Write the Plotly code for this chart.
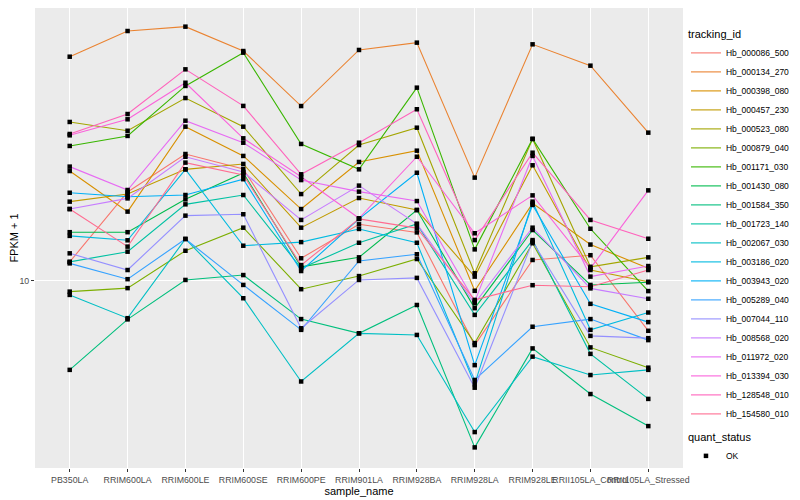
import plotly.graph_objects as go

samples = ["PB350LA", "RRIM600LA", "RRIM600LE", "RRIM600SE", "RRIM600PE", "RRIM901LA",
           "RRIM928BA", "RRIM928LA", "RRIM928LE", "RRII105LA_Control", "RRII105LA_Stressed"]

tracking_ids = ["Hb_000086_500", "Hb_000134_270", "Hb_000398_080", "Hb_000457_230", "Hb_000523_080",
                "Hb_000879_040", "Hb_001171_030", "Hb_001430_080", "Hb_001584_350", "Hb_001723_140",
                "Hb_002067_030", "Hb_003186_020", "Hb_003943_020", "Hb_005289_040", "Hb_007044_110",
                "Hb_008568_020", "Hb_011972_020", "Hb_013394_030", "Hb_128548_010", "Hb_154580_010"]

colors = ["#F8766D", "#EA8331", "#D89000", "#C09B00", "#A3A500", "#7CAE00", "#39B600", "#00BB4E",
          "#00BF7D", "#00C1A3", "#00BFC4", "#00BAE0", "#00B0F6", "#35A2FF", "#9590FF", "#C77CFF",
          "#E76BF3", "#FA62DB", "#FF62BC", "#FF6C91"]

# FPKM + 1 per gene, in the order of samples
Hb_000086_500 = [10.76, 14.07, 16.28, 15.37, 10.91, 12.43, 12.05, 7.82, 10.84, 11.04, 8.26]
Hb_000134_270 = [23.65, 26.10, 26.54, 24.17, 19.57, 24.27, 24.96, 14.87, 24.80, 22.85, 17.67]
Hb_000398_080 = [15.25, 13.05, 18.08, 16.16, 13.18, 15.79, 16.49, 9.63, 13.47, 11.50, 10.50]
Hb_000457_230 = [13.56, 13.96, 15.35, 15.67, 12.27, 13.75, 13.13, 10.17, 15.59, 10.43, 9.97]
Hb_000523_080 = [18.41, 17.80, 20.18, 18.08, 13.96, 16.85, 18.01, 10.30, 17.25, 10.56, 10.95]
Hb_000879_040 = [9.60, 9.73, 11.23, 12.27, 9.69, 10.19, 10.88, 7.88, 11.56, 7.75, 7.17]
Hb_001171_030 = [16.79, 17.45, 21.14, 24.02, 16.92, 15.35, 21.00, 11.29, 17.25, 12.22, 9.62]
Hb_001430_080 = [12.06, 12.06, 13.68, 15.14, 10.56, 10.95, 13.13, 9.01, 12.16, 9.85, 9.95]
Hb_001584_350 = [7.11, 8.63, 10.04, 10.23, 8.64, 8.18, 9.12, 5.28, 7.72, 6.48, 5.73]
Hb_001723_140 = [10.76, 11.19, 13.42, 13.91, 10.50, 11.58, 12.45, 8.78, 11.70, 7.56, 6.36]
Hb_002067_030 = [9.48, 8.67, 11.75, 9.36, 6.80, 8.18, 8.13, 5.60, 7.48, 6.97, 7.11]
Hb_003186_020 = [11.89, 11.69, 15.35, 11.45, 11.61, 12.21, 11.58, 6.73, 13.56, 8.29, 8.86]
Hb_003943_020 = [14.03, 13.82, 13.91, 14.78, 10.39, 12.69, 15.15, 7.24, 13.39, 9.16, 8.54]
Hb_005289_040 = [10.70, 10.07, 11.75, 9.85, 8.29, 10.80, 11.08, 6.84, 8.39, 8.64, 7.97]
Hb_007044_110 = [11.12, 10.43, 12.85, 12.92, 8.34, 10.04, 10.12, 6.64, 11.63, 8.10, 8.03]
Hb_008568_020 = [13.18, 13.73, 16.11, 15.19, 12.64, 14.42, 12.45, 9.18, 12.27, 9.72, 9.34]
Hb_011972_020 = [15.51, 14.18, 18.50, 17.00, 14.73, 14.09, 13.59, 9.24, 16.16, 10.17, 10.59]
Hb_013394_030 = [17.49, 18.60, 21.40, 17.29, 14.92, 12.72, 16.11, 12.01, 13.89, 10.50, 14.16]
Hb_128548_010 = [17.58, 18.98, 22.53, 19.58, 15.06, 17.00, 19.33, 11.70, 16.36, 12.64, 11.76]
Hb_154580_010 = [13.18, 11.41, 15.75, 15.02, 10.63, 12.69, 12.25, 9.30, 9.84, 9.78, 10.43]

series = [Hb_000086_500, Hb_000134_270, Hb_000398_080, Hb_000457_230, Hb_000523_080,
          Hb_000879_040, Hb_001171_030, Hb_001430_080, Hb_001584_350, Hb_001723_140,
          Hb_002067_030, Hb_003186_020, Hb_003943_020, Hb_005289_040, Hb_007044_110,
          Hb_008568_020, Hb_011972_020, Hb_013394_030, Hb_128548_010, Hb_154580_010]

y_ticks = [10]

FONT = "Liberation Sans, Arial, sans-serif"

fig = go.Figure()
for name, vals, col in zip(tracking_ids, series, colors):
    fig.add_trace(go.Scatter(x=samples, y=vals, mode="lines", name=name,
                             line=dict(color=col, width=1.1), legend="legend"))

all_x, all_y = [], []
for vals in series:
    all_x += samples
    all_y += vals
fig.add_trace(go.Scatter(x=all_x, y=all_y, mode="markers", name="OK",
                         marker=dict(symbol="square", size=4.5, color="black"),
                         legend="legend2"))

# page body has an 8px margin, so the figure is 792x492 and sits at (8, 8)
fig.update_layout(
    width=792, height=492, autosize=False,
    margin=dict(l=27, r=117, t=0, b=32, autoexpand=False),
    paper_bgcolor="white", plot_bgcolor="#EBEBEB",
    font=dict(family=FONT, size=9, color="black"),
    xaxis=dict(type="category", categoryorder="array", categoryarray=samples,
               range=[-0.6, len(samples) - 0.4], automargin=False,
               showgrid=True, gridcolor="white", gridwidth=1.1,
               ticks="outside", ticklen=3, tickcolor="#333333", tickwidth=1,
               tickangle=0, tickfont=dict(size=8.8, color="#4D4D4D", family=FONT),
               title=dict(text="sample_name", font=dict(size=11, color="black"), standoff=0),
               zeroline=False, showline=False),
    yaxis=dict(type="log", range=[0.6883, 1.455], automargin=False,
               tickvals=y_ticks, ticktext=[str(v) for v in y_ticks],
               showgrid=True, gridcolor="white", gridwidth=1.1,
               ticks="outside", ticklen=3, tickcolor="#333333", tickwidth=1,
               tickfont=dict(size=8.8, color="#4D4D4D", family=FONT),
               title=dict(text="FPKM + 1", font=dict(size=11, color="black"), standoff=0),
               zeroline=False, showline=False),
    legend=dict(x=1.0046, y=0.965, xanchor="left", yanchor="top",
                title=dict(text="tracking_id", font=dict(size=11)),
                font=dict(size=8.5), itemwidth=30, bgcolor="rgba(0,0,0,0)",
                tracegroupgap=0),
    legend2=dict(x=1.0046, y=0.089, xanchor="left", yanchor="top",
                 title=dict(text="quant_status", font=dict(size=11)),
                 font=dict(size=8.5), itemwidth=30, bgcolor="rgba(0,0,0,0)"),
)

fig.write_html("out.html")
